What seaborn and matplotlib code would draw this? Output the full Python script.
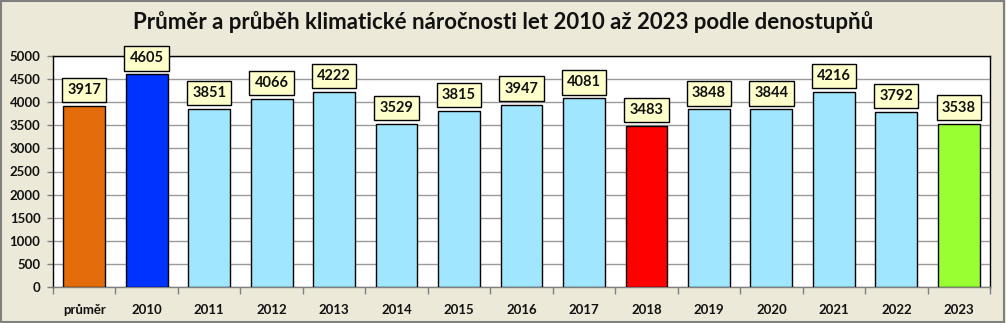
import matplotlib
matplotlib.use("Agg")
import matplotlib.pyplot as plt
import seaborn as sns
import pandas as pd
from matplotlib.patches import Rectangle

categories = ["průměr", "2010", "2011", "2012", "2013", "2014", "2015", "2016",
              "2017", "2018", "2019", "2020", "2021", "2022", "2023"]
values = [3917, 4605, 3851, 4066, 4222, 3529, 3815, 3947,
          4081, 3483, 3848, 3844, 4216, 3792, 3538]
bar_colors = ["#E36C0A", "#0033FF", "#A0E6FF", "#A0E6FF", "#A0E6FF", "#A0E6FF",
              "#A0E6FF", "#A0E6FF", "#A0E6FF", "#FF0000", "#A0E6FF", "#A0E6FF",
              "#A0E6FF", "#A0E6FF", "#99FF33"]
title = "Průměr a průběh klimatické náročnosti let 2010 až 2023 podle denostupňů"

sns.set_theme(style="white")
plt.rcParams["font.family"] = ["Lato", "DejaVu Sans"]

df = pd.DataFrame({"kategorie": categories, "hodnota": values})

fig = plt.figure(figsize=(10.06, 3.23), dpi=100)
fig.patch.set_facecolor("#ECE9D8")
ax = fig.add_axes([53 / 1006, 36 / 323, 937 / 1006, 231 / 323])
ax.set_facecolor("white")

sns.barplot(data=df, x="kategorie", y="hodnota", hue="kategorie",
            palette=dict(zip(categories, bar_colors)), legend=False,
            width=0.67, edgecolor="black", linewidth=1.0, saturation=1,
            ax=ax, zorder=3)

ax.set_ylim(0, 5000)
ax.set_xlim(-0.5, len(categories) - 0.5)
ax.set_yticks(range(0, 5001, 500))
ax.yaxis.grid(True, color="#9A9A9A", linewidth=1.0, zorder=0)
ax.set_axisbelow(True)
ax.set_xlabel("")
ax.set_ylabel("")

for s in ax.spines.values():
    s.set_color("black")
    s.set_linewidth(1.0)
ax.spines["bottom"].set_color("#808080")

ax.tick_params(axis="y", which="both", left=True, length=4, width=1,
               color="#808080", labelsize=9.5, pad=5)
ax.tick_params(axis="x", bottom=False, labelsize=9.5, pad=6)
for lab in ax.get_xticklabels() + ax.get_yticklabels():
    lab.set_fontweight("bold")
    lab.set_color("#111111")

# tick marks between categories on the x axis
ax.set_xticks([i - 0.5 for i in range(len(categories) + 1)], minor=True)
ax.tick_params(axis="x", which="minor", bottom=True, length=5, width=1,
               color="#808080")

# value labels in boxes above the bars
for i, v in enumerate(values):
    ax.annotate(f"{v}", xy=(i, v), xytext=(0, 11.5), textcoords="offset points",
                ha="center", va="center", fontsize=10.5, fontweight="bold",
                color="#111111",
                bbox=dict(boxstyle="square,pad=0.36", facecolor="#FFFFCC",
                          edgecolor="black", linewidth=1.0),
                zorder=5)

fig.text(503 / 1006, 1 - 22 / 323, title, ha="center", va="center",
         fontsize=16, fontweight="bold", color="#111111")

# outer frame of the chart
fig.patches.append(Rectangle((0.001, 0.002), 0.997, 0.995, transform=fig.transFigure,
                             fill=False, edgecolor="#808080", linewidth=1.5))

fig.savefig("out.png", dpi=100, facecolor=fig.get_facecolor())
